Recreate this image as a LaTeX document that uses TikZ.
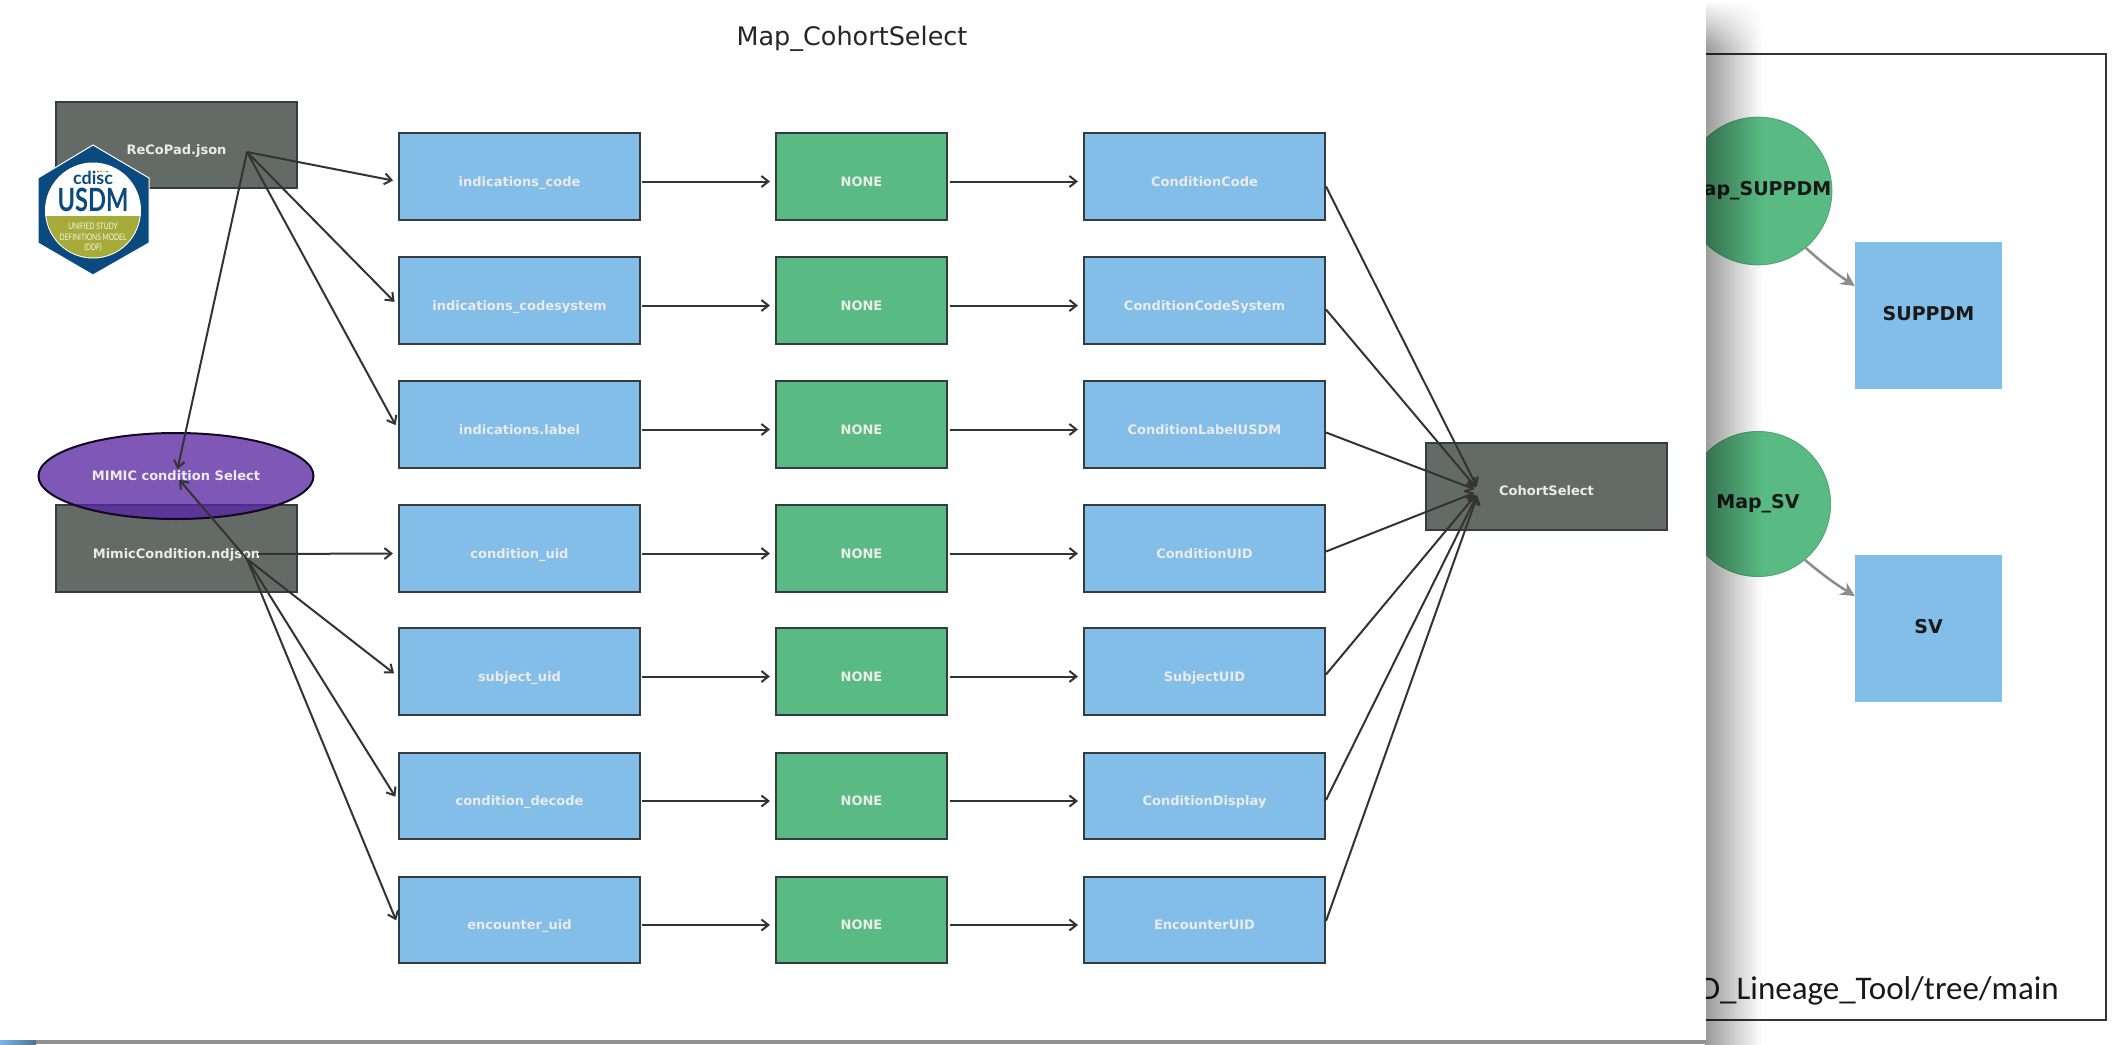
\documentclass[tikz,border=0pt]{standalone}
\usepackage{fontspec}
\setmainfont{DejaVu Sans}
\newfontfamily\logofont{Lato}
\newfontfamily\logotall[FakeStretch=0.74]{Lato}
\newfontfamily\urlfont{Carlito}
\usetikzlibrary{arrows.meta, shapes.geometric, fadings}

\definecolor{mapgreen}{HTML}{59BB83}
\definecolor{fieldblue}{HTML}{82BEE8}
\definecolor{filegray}{HTML}{646B66}
\definecolor{edgegray}{HTML}{333C40}
\definecolor{selectpurple}{HTML}{5A28A4}
\definecolor{usdmblue}{HTML}{0B4A7E}
\definecolor{usdmolive}{HTML}{A7AB39}

\tikzfading[name=sidefade, left color=transparent!60, right color=transparent!100]
\tikzfading[name=topfade, top color=transparent!0, bottom color=transparent!100]

\tikzset{
    box/.style = {draw=edgegray, line width=2pt, rectangle, inner sep=0pt, text=white!92!black,
        font=\fontsize{13}{15}\selectfont\bfseries, minimum height=86.5pt, text height=19pt, text depth=0pt},
    field/.style = {box, fill=fieldblue, minimum width=241pt},
    mapping/.style = {box, fill=mapgreen, minimum width=171pt},
    datafile/.style = {box, fill=filegray, minimum width=241pt},
    flow/.style = {draw=black!80, line width=2pt, -{Straight Barb[length=7pt, width=11pt]}, shorten >=5pt},
    bigmap/.style = {circle, fill=mapgreen, draw=mapgreen!90!black, line width=1pt, minimum size=145pt, inner sep=0pt,
        font=\fontsize{19}{21}\selectfont\bfseries, text=black!90, text depth=5pt},
    bigfield/.style = {rectangle, fill=fieldblue, minimum width=147pt, minimum height=147pt, inner sep=0pt,
        font=\fontsize{19}{21}\selectfont\bfseries, text=black!90, text depth=4pt},
    bigflow/.style = {draw=black!45, line width=2.5pt, -{Stealth[length=14pt, width=14pt]}},
    logotext/.style = {font=\logotall\fontsize{9}{10}\selectfont, text=white!90!usdmolive}
}

\begin{document}
\begin{tikzpicture}[x=1pt, y=-1pt]
    \useasboundingbox (0, 0) rectangle (2125, 1044);
    \fill[white] (0, 0) rectangle (2125, 1044);

    \draw[line width=2pt, black!80] (1600, 53.5) rectangle (2105.5, 1019.5);
    \node[bigmap] (suppmap) at (1758, 191) {Map\_SUPPDM};
    \node[bigmap] (svmap) at (1758, 504) {Map\_SV};
    \node[bigfield] (suppbox) at (1928.5, 315) {SUPPDM};
    \node[bigfield] (svbox) at (1928.5, 628) {SV};
    \draw[bigflow] (suppmap.-50) to[bend right=4] ([yshift=29pt]suppbox.west);
    \draw[bigflow] (svmap.-50) to[bend right=4] ([yshift=32pt]svbox.west);
    \node[anchor=base east, inner sep=0pt, font=\urlfont\fontsize{33}{36}\selectfont, text=black!90] (repourl) at (2059, 999) {VD\_Lineage\_Tool/tree/main};

    \fill[black, path fading=sidefade] (1705, 0) rectangle (1762, 1044);
    \fill[white, path fading=topfade] (1705, 0) rectangle (1775, 48);

    \fill[white] (0, 0) rectangle (1705.5, 1040);
    \fill[black!43] (0, 1040) rectangle (1705.5, 1044);
    \shade[left color=fieldblue!95!blue, right color=fieldblue!60!black] (0, 1040) rectangle (36, 1044);

    \node[font=\fontsize{25.5}{30}\selectfont, text=black!85] (title) at (852, 39) {Map\_CohortSelect};

    \node[datafile] (recopad) at (176.5, 145) {ReCoPad.json};
    \node[datafile] (mimic) at (176.5, 548.5) {MimicCondition.ndjson};
    \node[datafile, text height=17pt] (cohort) at (1546.5, 486.5) {CohortSelect};
    \node[ellipse, draw=black!80!selectpurple, line width=2pt, fill=selectpurple, fill opacity=0.78, text opacity=1,
        minimum width=275pt, minimum height=86pt, inner sep=0pt, text=white!92!black,
        font=\fontsize{13}{15}\selectfont\bfseries] (select) at (176, 476) {MIMIC condition Select};

    \foreach \i/\y/\src/\tgt/\off in {
        1/176.5/indications\_code/ConditionCode/10,
        2/300.5/indications\_codesystem/ConditionCodeSystem/9,
        3/424.5/indications.label/ConditionLabelUSDM/8,
        4/548.5/condition\_uid/ConditionUID/3,
        5/671.5/subject\_uid/SubjectUID/3,
        6/796/condition\_decode/ConditionDisplay/4,
        7/920/encounter\_uid/EncounterUID/1}
    {
        \node[field] (src\i) at (519.5, \y) {\src};
        \node[mapping] (map\i) at (861.5, \y) {NONE};
        \node[field] (tgt\i) at (1204.5, \y) {\tgt};
        \draw[flow, shorten <=1pt] ([yshift=-5pt]src\i.east) -- ([yshift=-5pt]map\i.west);
        \draw[flow, shorten <=2pt] ([yshift=-5pt]map\i.east) -- ([yshift=-5pt]tgt\i.west);
        \draw[flow] ([yshift=-\off pt]tgt\i.east) -- (1479, 491);
    }

    \coordinate (recoout) at (247, 152);
    \coordinate (mimicout) at (247, 559);
    \coordinate (mimictext) at (258, 554);
    \foreach \i in {1,...,3}
    {\draw[flow] (recoout) -- ([yshift=-5pt]src\i.west);}
    \draw[flow] (mimictext) -- ([yshift=-5pt]src4.west);
    \foreach \i in {5,...,7}
    {\draw[flow] (mimicout) -- ([yshift=-5pt]src\i.west);}
    \draw[flow, shorten >=7pt] (recoout) -- (select.center);
    \draw[flow, shorten >=5pt] (mimicout) -- (select.center);

    \draw[white, line width=1pt, fill=usdmblue] (93, 145) -- (149, 178) -- (149, 243) -- (93, 275) -- (38, 243) -- (38, 178) -- cycle;
    \fill[white] (93, 210.5) circle (48);
    \begin{scope}
        \clip (93, 210.5) circle (47);
        \fill[usdmolive] (40, 216) rectangle (146, 262);
    \end{scope}
    \foreach \x/\c in {98/red, 101/orange, 104/yellow!80!black, 107/green!60!black}
    {\fill[\c] (\x, 171.5) circle (0.9);}
    \node[font=\logofont\bfseries\fontsize{18}{20}\selectfont, text=usdmblue] at (93, 178) {cdisc};
    \node[font=\logotall\bfseries\fontsize{32}{34}\selectfont, text=usdmblue] at (93, 200) {USDM};
    \node[logotext] at (93, 226) {UNIFIED STUDY};
    \node[logotext] at (93, 237) {DEFINITIONS MODEL};
    \node[logotext] at (93, 248) {(DDF)};
\end{tikzpicture}
\end{document}
